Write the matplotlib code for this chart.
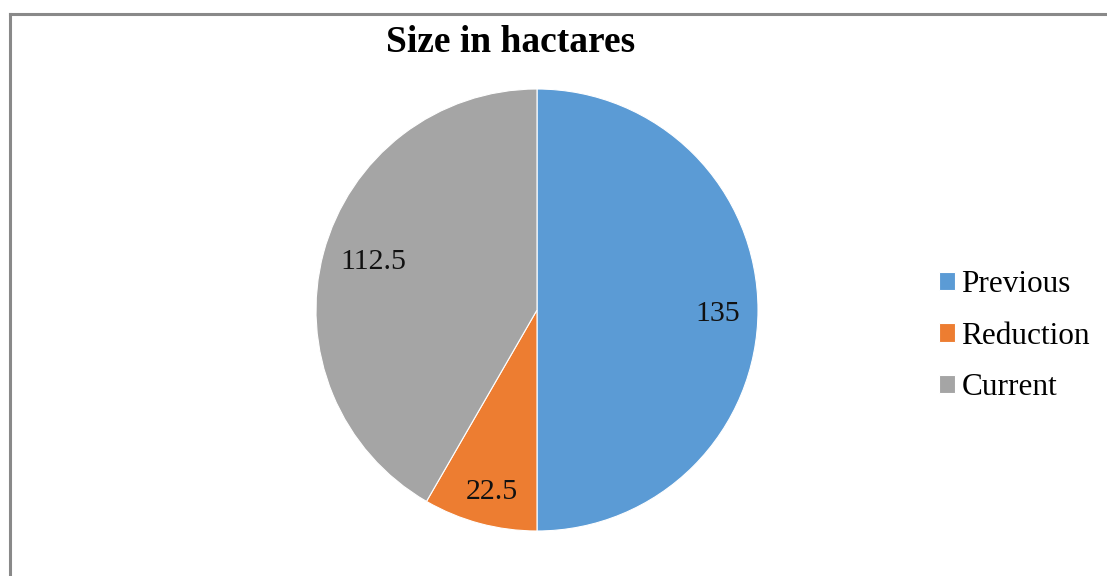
import matplotlib.pyplot as plt
from matplotlib.lines import Line2D
import numpy as np

categories = ["Previous", "Reduction", "Current"]
values = [135, 22.5, 112.5]
value_labels = ["135", "22.5", "112.5"]
colors = ["#5B9BD5", "#ED7D31", "#A5A5A5"]

# label placement (radius fraction, angle in degrees) imitating Excel's best fit
label_polar = [(0.82, -1.2), (0.85, -104.0), (0.77, 163.7)]

plt.rcParams['font.family'] = ['Liberation Serif', 'DejaVu Serif']

W, H = 1107, 576
fig = plt.figure(figsize=(W / 100, H / 100), dpi=100)

# outer chart frame (only top and left edges visible in the crop)
fig.add_artist(Line2D([10 / W, 10 / W], [0, 1 - 14 / H], transform=fig.transFigure,
                      color="#898989", lw=2.2))
fig.add_artist(Line2D([10 / W, 1], [1 - 14 / H, 1 - 14 / H], transform=fig.transFigure,
                      color="#898989", lw=2.2))

# pie: centre (537, 310) px, radius 221 px
cx, cy, r = 537, 310, 221
ax = fig.add_axes([(cx - r) / W, (H - cy - r) / H, 2 * r / W, 2 * r / H])
wedges, texts = ax.pie(values, colors=colors, startangle=90, counterclock=False,
                       radius=1, labels=value_labels, labeldistance=0.82,
                       wedgeprops=dict(linewidth=0.8, edgecolor="white"),
                       textprops=dict(fontsize=21.5, color="#111111"))
for t, (rr, a) in zip(texts, label_polar):
    t.set_horizontalalignment("center")
    t.set_verticalalignment("center")
    t.set_position((rr * np.cos(np.deg2rad(a)), rr * np.sin(np.deg2rad(a))))

ax.set_xlim(-1, 1)
ax.set_ylim(-1, 1)
ax.set_aspect("auto")

fig.text(511 / W, 1 - 42 / H, "Size in hactares", ha="center", va="center",
         fontsize=27, fontweight="bold")

fig.legend(wedges, categories, loc="center left", bbox_to_anchor=(939 / W, 1 - 336 / H),
           frameon=False, fontsize=22.5, handlelength=0.52, handleheight=0.52,
           handletextpad=0.2, labelspacing=0.72, borderpad=0, borderaxespad=0)

fig.savefig("out.png", dpi=100)
